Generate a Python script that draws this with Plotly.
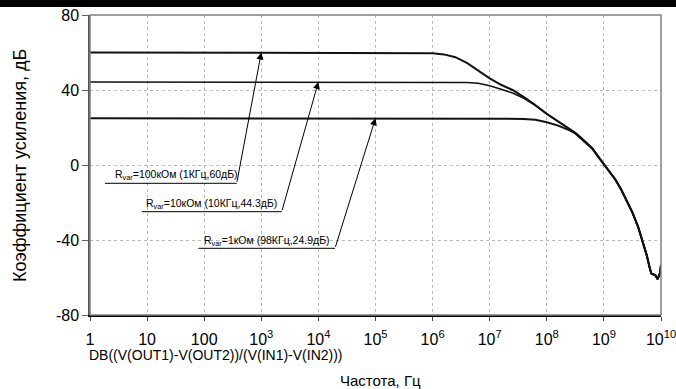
import plotly.graph_objects as go
import numpy as np

# ---------------- data ----------------
# frequency grid (Hz)
freq = [1, 10, 100, 1e3, 1e4, 1e5, 3.16e5, 1e6, 1.58e6, 2.51e6, 3.98e6, 6.31e6,
        1e7, 1.58e7, 2.51e7, 3.98e7, 6.31e7, 1e8, 1.58e8, 2.51e8, 3.16e8, 3.98e8,
        5.01e8, 6.31e8, 7.94e8, 1e9, 1.26e9, 1.58e9, 2.0e9, 2.51e9, 3.16e9, 3.98e9,
        5.01e9, 5.62e9, 6.31e9, 6.76e9, 7.94e9, 8.71e9, 9.55e9, 1e10]

gain_100k = [60, 60, 60, 60, 60, 60, 60, 59.6, 59.0, 57.5, 54.5, 50.5,
             46.2, 42.8, 40.0, 36.2, 32.0, 27.3, 23.4, 19.6, 17.2, 14.6,
             11.6, 8.8, 4.5, 0.5, -3.5, -7.6, -12.9, -18.9, -25.3, -33.0,
             -42.4, -48.0, -54.5, -57.8, -58.7, -60.8, -57.8, -53.3]

gain_10k = [44.3, 44.3, 44.3, 44.3, 44.3, 44.3, 44.3, 44.3, 44.3, 44.3, 44.0, 43.6,
            42.3, 40.4, 38.4, 35.6, 31.7, 27.1, 23.2, 19.4, 17.0, 14.5,
            11.5, 8.7, 4.4, 0.4, -3.6, -7.7, -13.0, -19.0, -25.4, -33.1,
            -42.5, -48.1, -54.6, -57.9, -58.8, -60.9, -57.9, -53.4]

gain_1k = [24.9, 24.9, 24.9, 24.9, 24.9, 24.9, 24.9, 24.9, 24.9, 24.9, 24.9, 24.9,
           24.9, 24.9, 24.9, 24.6, 24.1, 22.8, 21.0, 18.5, 16.8, 14.3,
           11.4, 8.6, 4.4, 0.4, -3.6, -7.7, -13.0, -19.0, -25.4, -33.1,
           -42.5, -48.1, -54.6, -57.9, -58.8, -60.9, -57.9, -53.4]

y_ticks = [-80, -40, 0, 40, 80]
y_ticktext = ["-80", "-40", "0", "40", "80"]
x_tickvals = [1, 10, 100, 1e3, 1e4, 1e5, 1e6, 1e7, 1e8, 1e9, 1e10]
x_ticktext = ["1", "10", "100", "10<sup>3</sup>", "10<sup>4</sup>", "10<sup>5</sup>",
              "10<sup>6</sup>", "10<sup>7</sup>", "10<sup>8</sup>", "10<sup>9</sup>",
              "10<sup>10</sup>"]

label_texts = ["R<sub>var</sub>=100кОм (1КГц,60дБ)",
               "R<sub>var</sub>=10кОм (10КГц,44.3дБ)",
               "R<sub>var</sub>=1кОм (98КГц,24.9дБ)"]
label_freq = [1e3, 1e4, 1e5]
label_gain = [60, 44.3, 24.9]

y_title = "Коэффициент усиления, дБ"
x_title = "Частота, Гц"
expr_text = "DB((V(OUT1)-V(OUT2))/(V(IN1)-V(IN2)))"

# ---------------- layout helpers ----------------
W, H = 676, 389
L, R, T, B = 90, 15, 15, 74
PW, PH = W - L - R, H - T - B
FONT = "Liberation Sans, Arial, sans-serif"


def px(x):
    return (x - L) / PW


def py(y):
    return (H - B - y) / PH


def data_x(xp):  # pixel -> log10 freq
    return (xp - L) / PW * 10


def data_y(yp):  # pixel -> dB
    return 80 - (yp - T) / PH * 160


fig = go.Figure()
for g, w in [(gain_100k, 2), (gain_10k, 1.6), (gain_1k, 2)]:
    fig.add_trace(go.Scatter(x=freq, y=g, mode="lines",
                             line=dict(color="#111111", width=w),
                             showlegend=False, hoverinfo="skip"))

# label positions (pixels): text start x, text center y, underline x0, x1, y
label_pos = [(113, 175.5, 105, 236.7, 183.3),
             (143.5, 204, 141.7, 281.7, 211.7),
             (201.5, 241, 198.3, 335, 248.3)]

shapes = [
    dict(type="rect", xref="paper", yref="paper", x0=0, x1=1, y0=0, y1=1,
         line=dict(color="#808080", width=1.5), layer="above"),
]
annotations = [
    # black band across the top of the page
    dict(text=" ", xref="paper", yref="paper", x=px(W / 2), y=py(-4),
         xanchor="center", yanchor="top", showarrow=False, bgcolor="black",
         width=W + 20, height=10.5, borderpad=0, borderwidth=0,
         font=dict(size=4)),
]
for txt, f, g, (tx, ty, ux0, ux1, uy) in zip(label_texts, label_freq, label_gain, label_pos):
    shapes.append(dict(type="line", xref="paper", yref="paper", x0=px(ux0), x1=px(ux1),
                       y0=py(uy), y1=py(uy), line=dict(color="black", width=1)))
    annotations.append(dict(text=txt, xref="paper", yref="paper", x=px(tx), y=py(ty),
                            xanchor="left", yanchor="middle", showarrow=False,
                            font=dict(family=FONT, size=10.5, color="black")))
    annotations.append(dict(text="", x=np.log10(f), y=g, xref="x", yref="y",
                            axref="x", ayref="y", ax=data_x(ux1), ay=data_y(uy),
                            showarrow=True, arrowhead=2, arrowsize=1.4, arrowwidth=1,
                            arrowcolor="black", standoff=0, startstandoff=0))

annotations += [
    dict(text=y_title, xref="paper", yref="paper", x=px(20), y=py(166),
         textangle=-90, showarrow=False, xanchor="center", yanchor="middle",
         font=dict(family=FONT, size=18, color="black")),
    dict(text=expr_text, xref="paper", yref="paper", x=px(87), y=py(355),
         showarrow=False, xanchor="left", yanchor="middle",
         font=dict(family=FONT, size=14, color="black")),
    dict(text=x_title, xref="paper", yref="paper", x=px(380), y=py(380),
         showarrow=False, xanchor="center", yanchor="middle",
         font=dict(family=FONT, size=15, color="black")),
]

fig.update_layout(
    width=W, height=H,
    margin=dict(l=L, r=R, t=T, b=B, pad=0),
    paper_bgcolor="white", plot_bgcolor="white",
    font=dict(family=FONT, color="black"),
    shapes=shapes, annotations=annotations,
    xaxis=dict(type="log", range=[0, 10], tickvals=x_tickvals, ticktext=x_ticktext,
               showgrid=True, gridcolor="#b8b8b8", griddash="dot", gridwidth=1,
               ticks="outside", ticklen=4, tickcolor="#444", showline=True,
               linecolor="black", linewidth=1.5, zeroline=False, automargin=False,
               ticklabeloverflow="allow", ticklabelstandoff=5,
               tickfont=dict(family=FONT, size=16, color="black")),
    yaxis=dict(range=[-80, 80], tickvals=y_ticks, ticktext=y_ticktext, showgrid=True,
               gridcolor="#b8b8b8",
               griddash="dot", gridwidth=1, ticks="outside", ticklen=6, tickcolor="#666",
               showline=True, linecolor="#555", linewidth=1.5, zeroline=False,
               automargin=False, ticklabeloverflow="allow",
               tickfont=dict(family=FONT, size=16, color="black")),
)

fig.write_html("out.html", config={"displayModeBar": False},
               post_script="document.body.style.margin='0';")
